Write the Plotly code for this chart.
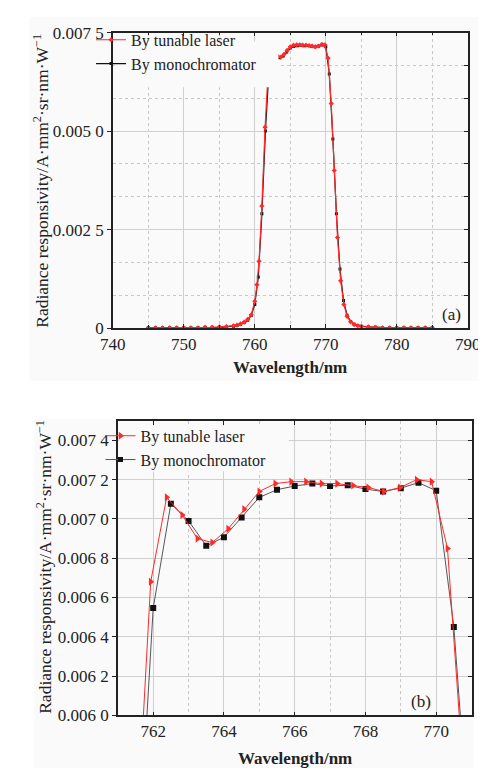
import plotly.graph_objects as go

# ---------------- data ----------------
laser_wl = [745, 746, 747, 748, 749, 750, 751, 752, 753, 754, 755, 756, 757, 757.5, 758, 758.5,
            759, 759.5, 760, 760.3, 760.6, 761.0, 761.45, 761.93, 762.38, 762.82, 763.25, 763.67,
            764.12, 764.57, 765.0, 765.45, 765.9, 766.32, 766.76, 767.2, 767.65, 768.08, 768.52,
            768.98, 769.45, 769.87, 770.32, 770.77, 771.2, 771.65, 772.1, 772.55, 773.0, 773.5,
            774.0, 774.5, 775, 776, 777, 778, 779, 780, 781, 782, 783, 784, 785]
laser_val = [0.00001, 0.00001, 0.00001, 0.00001, 0.00001, 0.00001, 0.00001, 0.00001, 0.00002, 0.00002,
             0.00003, 0.00004, 0.00006, 0.00008, 0.00011, 0.00015, 0.00022, 0.00034, 0.00068, 0.0011,
             0.0017, 0.0031, 0.0051, 0.00668, 0.00711, 0.00702, 0.00690, 0.00688, 0.00695, 0.00705,
             0.00714, 0.00718, 0.00719, 0.00719, 0.00718, 0.00718, 0.00717, 0.00716, 0.00714, 0.00716,
             0.00720, 0.00719, 0.00685, 0.0057, 0.0040, 0.0023, 0.0012, 0.0006, 0.0003, 0.00016,
             0.00009, 0.00006, 0.00004, 0.00003, 0.00002, 0.00001, 0.00001, 0.00001, 0.00001, 0.00001,
             0.00001, 0.00001, 0.00001]

mono_wl = [745, 746, 747, 748, 749, 750, 751, 752, 753, 754, 755, 756, 757, 757.5, 758, 758.5,
           759, 759.5, 760, 760.5, 761.0, 761.5, 762.0, 762.5, 763.0, 763.5, 764.0, 764.5, 765.0,
           765.5, 766.0, 766.5, 767.0, 767.5, 768.0, 768.5, 769.0, 769.5, 770.0, 770.5, 771.0,
           771.5, 772.0, 772.5, 773.0, 773.5, 774, 774.5, 775, 776, 777, 778, 779, 780, 781, 782,
           783, 784, 785]
mono_val = [0.00001, 0.00001, 0.00001, 0.00001, 0.00001, 0.00001, 0.00001, 0.00001, 0.00002, 0.00002,
            0.00002, 0.00003, 0.00005, 0.00007, 0.0001, 0.00014, 0.0002, 0.00032, 0.0006, 0.0013,
            0.0029, 0.0050, 0.006546, 0.007078, 0.00699, 0.006863, 0.006907, 0.007008, 0.00711,
            0.007149, 0.007168, 0.00718, 0.007168, 0.007172, 0.007152, 0.00714, 0.007157, 0.007185,
            0.007144, 0.00645, 0.0048, 0.0029, 0.0015, 0.0007, 0.00033, 0.00017, 0.0001, 0.00007,
            0.00005, 0.00003, 0.00002, 0.00001, 0.00001, 0.00001, 0.00001, 0.00001, 0.00001, 0.00001,
            0.00001]

a_xticks = [740, 750, 760, 770, 780, 790]
a_yticks = [0, 0.0025, 0.005, 0.0075]
a_ylabels = ["0", "0.002 5", "0.005 0", "0.007 5"]

b_xticks = [762, 764, 766, 768, 770]
b_yticks = [0.0060, 0.0062, 0.0064, 0.0066, 0.0068, 0.0070, 0.0072, 0.0074]
b_ylabels = ["0.006 0", "0.006 2", "0.006 4", "0.006 6", "0.006 8", "0.007 0", "0.007 2", "0.007 4"]

names = ["By tunable laser", "By monochromator"]

# ---------------- style ----------------
W, H = 486, 770
SERIF = "Liberation Serif"
RED = "#ff2a2a"
BLK = "#111111"
GRID = "#cfcfcf"
BG = "#fafafa"

def px(x):
    return x / W

def py(y):
    return 1 - y / H

a_dom_x = [px(97), px(472)]
a_dom_y = [py(319), py(16)]
b_dom_x = [px(102.3), px(476)]
b_dom_y = [py(716), py(414)]

fig = go.Figure()

# panel (a)
fig.add_trace(go.Scatter(x=mono_wl, y=mono_val, mode="lines+markers", name=names[1],
                         line=dict(color=BLK, width=1.2),
                         marker=dict(symbol="square", size=3, color=BLK),
                         xaxis="x", yaxis="y", legend="legend"))
fig.add_trace(go.Scatter(x=laser_wl, y=laser_val, mode="lines+markers", name=names[0],
                         line=dict(color=RED, width=1.2),
                         marker=dict(symbol="diamond", size=4, color=RED),
                         xaxis="x", yaxis="y", legend="legend"))
# panel (b)
fig.add_trace(go.Scatter(x=mono_wl, y=mono_val, mode="lines+markers", name=names[1],
                         line=dict(color="#555555", width=1),
                         marker=dict(symbol="square", size=6, color=BLK),
                         xaxis="x2", yaxis="y2", legend="legend2", showlegend=False))
fig.add_trace(go.Scatter(x=laser_wl, y=laser_val, mode="lines+markers", name=names[0],
                         line=dict(color=RED, width=1),
                         marker=dict(symbol="triangle-right", size=7, color=RED),
                         xaxis="x2", yaxis="y2", legend="legend2"))
fig.add_trace(go.Scatter(x=[None], y=[None], mode="lines+markers", name=names[1],
                         line=dict(color="#555555", width=1),
                         marker=dict(symbol="square", size=5, color=BLK),
                         xaxis="x2", yaxis="y2", legend="legend2"))
# empty helpers so the right-side tick axes are drawn
fig.add_trace(go.Scatter(x=[], y=[], xaxis="x", yaxis="y3", showlegend=False, hoverinfo="skip"))
fig.add_trace(go.Scatter(x=[], y=[], xaxis="x2", yaxis="y4", showlegend=False, hoverinfo="skip"))

tickfont = dict(family=SERIF, size=17, color="#222")

common_x = dict(showline=True, linecolor="#222", linewidth=1.5, mirror="ticks",
                ticks="inside", ticklen=4, tickcolor="#222", tickfont=tickfont,
                showgrid=True, gridcolor=GRID, gridwidth=1, zeroline=False, tickmode="array")
common_y = dict(showline=True, linecolor="#222", linewidth=1.5, mirror=True,
                ticks="outside", ticklen=4, tickcolor="#222", tickfont=tickfont,
                showgrid=True, gridcolor=GRID, gridwidth=1, zeroline=False, tickmode="array")

title_font = dict(family=SERIF, size=17.5, color="#222")
xt_font = dict(family=SERIF, size=17, color="#222")

fig.update_layout(
    width=W, height=H,
    margin=dict(l=0, r=0, t=0, b=0),
    paper_bgcolor="white",
    plot_bgcolor=BG,
    font=dict(family=SERIF, color="#222"),
    xaxis=dict(domain=a_dom_x, anchor="y", range=[740, 790], tickvals=a_xticks,
               minor=dict(tickmode="linear", tick0=740, dtick=5, showgrid=True, gridcolor="#c8c8c8",
                          griddash="dot", ticks="inside", ticklen=3, tickcolor="#222"),
               **common_x),
    yaxis=dict(domain=a_dom_y, anchor="x", range=[0, 0.0075], tickvals=a_yticks, ticktext=a_ylabels,
               minor=dict(tickmode="linear", tick0=0, dtick=0.0025 / 3, showgrid=True,
                          gridcolor="#c8c8c8", griddash="dot"),
               **common_y),
    yaxis3=dict(overlaying="y", anchor="x", side="right", range=[0, 0.0075], tickmode="array",
                tickvals=a_yticks, showticklabels=False, showgrid=False, zeroline=False,
                ticks="inside", ticklen=4, tickcolor="#222", showline=False,
                minor=dict(tickmode="linear", tick0=0, dtick=0.0025 / 3, ticks="inside",
                           ticklen=4, tickcolor="#222", showgrid=False)),
    xaxis2=dict(domain=b_dom_x, anchor="y2", range=[761, 771], tickvals=b_xticks,
                minor=dict(tickmode="linear", tick0=761, dtick=1, showgrid=True, gridcolor="#c8c8c8",
                           griddash="dot", ticks="", tickcolor="#222"),
                **common_x),
    yaxis2=dict(domain=b_dom_y, anchor="x2", range=[0.006, 0.0075], tickvals=b_yticks,
                ticktext=b_ylabels, **common_y),
    yaxis4=dict(overlaying="y2", anchor="x2", side="right", range=[0.006, 0.0075], tickmode="array",
                tickvals=b_yticks, showticklabels=False, showgrid=False, zeroline=False,
                ticks="inside", ticklen=4, tickcolor="#222", showline=False),
    legend=dict(x=px(74), y=py(6), xanchor="left", yanchor="top", bgcolor="rgba(0,0,0,0)",
                font=dict(family=SERIF, size=16, color="#222"), itemwidth=30,
                tracegroupgap=0, borderwidth=0, traceorder="reversed"),
    legend2=dict(x=px(84), y=py(412), xanchor="left", yanchor="top", bgcolor="rgba(0,0,0,0)",
                 font=dict(family=SERIF, size=16, color="#222"), itemwidth=30,
                 tracegroupgap=0, borderwidth=0),
    shapes=[
        dict(type="rect", xref="paper", yref="paper", x0=px(9), x1=px(483), y0=py(373), y1=py(0),
             fillcolor=BG, line=dict(width=0), layer="below"),
        dict(type="rect", xref="paper", yref="paper", x0=px(14), x1=px(478), y0=py(770), y1=py(412),
             fillcolor=BG, line=dict(width=0), layer="below"),
        # legend boxes that hide the curves/grid behind them
        dict(type="rect", xref="paper", yref="paper", x0=px(99), x1=px(272), y0=py(72), y1=py(25),
             fillcolor=BG, line=dict(width=0), layer="above"),
        dict(type="rect", xref="paper", yref="paper", x0=px(104), x1=px(283), y0=py(466), y1=py(419),
             fillcolor=BG, line=dict(width=0), layer="above"),
    ],
    annotations=[
        dict(text="Radiance responsivity/A·mm<sup>2</sup>·sr·nm·W<sup>−1</sup>", textangle=-90,
             x=px(21), y=py(168), xref="paper", yref="paper", showarrow=False,
             xanchor="center", yanchor="middle", font=title_font),
        dict(text="Radiance responsivity/A·mm<sup>2</sup>·sr·nm·W<sup>−1</sup>", textangle=-90,
             x=px(24), y=py(564), xref="paper", yref="paper", showarrow=False,
             xanchor="center", yanchor="middle", font=title_font),
        dict(text="<b>Wavelength/nm</b>", x=px(284), y=py(359), xref="paper", yref="paper",
             showarrow=False, xanchor="center", yanchor="middle", font=xt_font),
        dict(text="<b>Wavelength/nm</b>", x=px(290), y=py(760), xref="paper", yref="paper",
             showarrow=False, xanchor="center", yanchor="middle", font=xt_font),
        dict(text="(a)", x=px(455), y=py(305), xref="paper", yref="paper", showarrow=False,
             xanchor="center", yanchor="middle", font=xt_font),
        dict(text="(b)", x=px(423), y=py(702), xref="paper", yref="paper", showarrow=False,
             xanchor="center", yanchor="middle", font=xt_font),
    ],
)

fig.write_html("out.html")
